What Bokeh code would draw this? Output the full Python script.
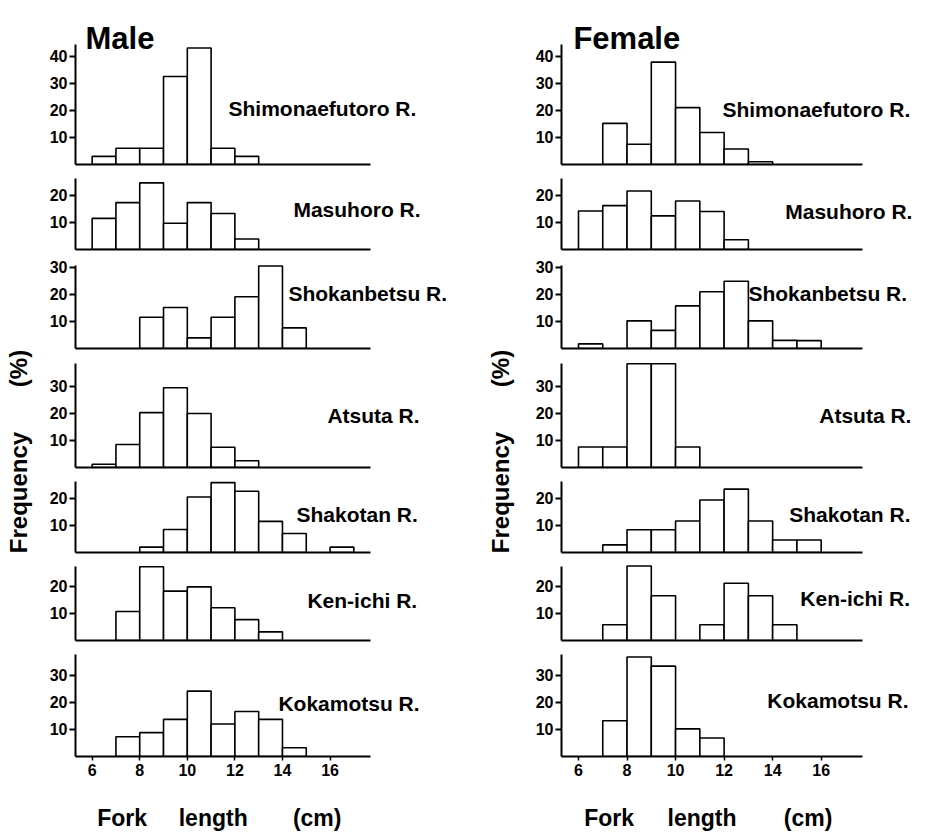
import math
from bokeh.plotting import figure
from bokeh.layouts import row, column
from bokeh.models import Range1d, FixedTicker, Label, ColumnDataSource, LinearAxis
from bokeh.embed import file_html
from bokeh.resources import INLINE
from bokeh.core.properties import value

FONT = "Liberation Sans"

# ---------------- data ----------------
rivers = ["Shimonaefutoro R.", "Masuhoro R.", "Shokanbetsu R.", "Atsuta R.",
          "Shakotan R.", "Ken-ichi R.", "Kokamotsu R."]
class_start = [6, 7, 8, 9, 10, 11, 12, 13, 14, 15, 16]   # fork-length classes (cm)
class_width = 1

male_shimonaefutoro = [3, 6, 6, 32.5, 43, 6, 3, 0, 0, 0, 0]
male_masuhoro = [11.5, 17.3, 24.6, 9.7, 17.3, 13.3, 3.9, 0, 0, 0, 0]
male_shokanbetsu = [0, 0, 11.5, 15.1, 3.9, 11.5, 19.1, 30.4, 7.6, 0, 0]
male_atsuta = [1.2, 8.5, 20.3, 29.5, 20, 7.5, 2.5, 0, 0, 0, 0]
male_shakotan = [0, 0, 2, 8.5, 20.5, 25.8, 22.6, 11.5, 7, 0, 2]
male_kenichi = [0, 10.7, 27.2, 18.2, 19.8, 12.1, 7.7, 3.2, 0, 0, 0]
male_kokamotsu = [0, 7.3, 8.8, 13.7, 24.1, 12, 16.6, 13.7, 3.2, 0, 0]

female_shimonaefutoro = [0, 15.2, 7.5, 37.8, 21, 11.8, 5.7, 1, 0, 0, 0]
female_masuhoro = [14.2, 16.2, 21.6, 12.4, 17.9, 14, 3.6, 0, 0, 0, 0]
female_shokanbetsu = [1.7, 0, 10.2, 6.7, 15.7, 20.9, 24.8, 10.2, 3, 2.9, 0]
female_atsuta = [7.6, 7.6, 38.4, 38.4, 7.6, 0, 0, 0, 0, 0, 0]
female_shakotan = [0, 2.8, 8.4, 8.4, 11.6, 19.4, 23.4, 11.6, 4.6, 4.6, 0]
female_kenichi = [0, 5.8, 27.5, 16.5, 0, 5.8, 21.1, 16.5, 5.8, 0, 0]
female_kokamotsu = [0, 13.2, 36.7, 33.3, 10.2, 6.8, 0, 0, 0, 0, 0]

male_values = [male_shimonaefutoro, male_masuhoro, male_shokanbetsu, male_atsuta,
               male_shakotan, male_kenichi, male_kokamotsu]
female_values = [female_shimonaefutoro, female_masuhoro, female_shokanbetsu, female_atsuta,
                 female_shakotan, female_kenichi, female_kokamotsu]

y_ticks = [[10, 20, 30, 40], [10, 20], [10, 20, 30], [10, 20, 30], [10, 20], [10, 20], [10, 20, 30]]
x_ticks = [6, 8, 10, 12, 14, 16]
x_min, x_axis_end = 5.3, 17.7
y_max = [44.3, 26.2, 30.6, 38.5, 26.2, 27.3, 37.6]

# ---------------- layout / label positions ----------------
axis_px = [120, 71, 83, 104, 71, 74, 102]     # height of each y axis
gap_above = [44, 7, 9, 8, 7, 7, 7]            # free frame space above each axis
border_bottom = [7, 7, 7, 7, 7, 7, 78]
male_px_per_cm, female_px_per_cm = 23.79, 24.27
male_frame_w, female_frame_w = 409, 363

male_label_x = [11.73, 14.46, 14.25, 15.89, 14.59, 15.05, 13.83]
male_label_y = [20.6, 14.7, 20.2, 19.1, 14.0, 14.7, 19.5]
female_label_x = [11.93, 14.52, 13.0, 15.92, 14.68, 15.14, 13.78]
female_label_y = [20.4, 14.0, 20.2, 19.1, 14.0, 15.4, 20.6]

title_x = {"Male": 5.72, "Female": 5.79}
title_y = 46.5
xlabel_words = ["Fork", "length", "(cm)"]
xlabel_x = [7.26, 11.09, 15.46]
freq_words = ["Frequency", "(%)"]
freq_y = [342, 466]
TOTAL_H = 834


def make_panel(i, vals, fw, ppc, bl, lx, ly, title=None):
    fh = axis_px[i] + gap_above[i]
    y_end = y_max[i] * fh / axis_px[i]
    p = figure(frame_width=fw, frame_height=fh, title=None,
               x_range=Range1d(x_min, x_min + fw / ppc), y_range=Range1d(0, y_end),
               min_border_left=bl, min_border_right=0,
               min_border_top=0, min_border_bottom=border_bottom[i],
               output_backend="svg", toolbar_location=None,
               background_fill_color="white", border_fill_color="white")
    p.outline_line_color = None
    p.grid.visible = False

    left = [s for s, v in zip(class_start, vals) if v > 0]
    top = [v for v in vals if v > 0]
    right = [s + class_width for s in left]
    src = ColumnDataSource(dict(left=left, right=right, top=top))
    p.quad(left="left", right="right", bottom=0, top="top", source=src,
           fill_color="white", line_color="black", line_width=1.6)

    ya = p.yaxis[0]
    ya.bounds = (0, y_max[i])
    ya.ticker = FixedTicker(ticks=y_ticks[i])
    ya.axis_line_width = 2
    ya.major_tick_line_width = 2
    ya.major_tick_out = 6
    ya.major_tick_in = 0
    ya.minor_tick_out = 0
    ya.minor_tick_in = 0
    ya.major_label_standoff = 2
    ya.major_label_text_font = FONT
    ya.major_label_text_font_style = "bold"
    ya.major_label_text_font_size = "16px"
    ya.major_label_text_color = "black"

    xa = p.xaxis[0]
    xa.bounds = (x_min, x_axis_end)
    xa.axis_line_width = 2
    xa.minor_tick_out = 0
    xa.minor_tick_in = 0
    xa.major_tick_in = 0
    if i == len(axis_px) - 1:
        xa.ticker = FixedTicker(ticks=x_ticks)
        xa.major_tick_out = 4
        xa.major_tick_line_width = 1.5
        xa.major_label_standoff = 3
        xa.major_label_text_font = FONT
        xa.major_label_text_font_style = "bold"
        xa.major_label_text_font_size = "16px"
        xa.major_label_text_color = "black"
        # axis title, word by word (the original is widely letter-spaced)
        ax2 = LinearAxis(ticker=FixedTicker(ticks=xlabel_x),
                         major_label_overrides={x: w for x, w in zip(xlabel_x, xlabel_words)},
                         axis_line_color=None, major_tick_line_color=None,
                         minor_tick_line_color=None, major_tick_out=0, major_tick_in=0,
                         minor_tick_out=0, minor_tick_in=0, major_label_standoff=26,
                         major_label_text_font=FONT, major_label_text_font_style="bold",
                         major_label_text_font_size="23px", major_label_text_color="black")
        p.add_layout(ax2, "below")
    else:
        xa.ticker = FixedTicker(ticks=[])
        xa.major_tick_out = 0
        xa.major_label_standoff = 0

    p.add_layout(Label(x=lx, y=ly, text=rivers[i], text_font=FONT, text_font_style="bold",
                       text_font_size="21px", text_align="left", text_baseline="middle",
                       text_color="black"))
    if title is not None:
        p.add_layout(Label(x=title_x[title], y=title_y, text=title, text_font=FONT,
                           text_font_style="bold", text_font_size="31px",
                           text_align="left", text_baseline="alphabetic", text_color="black"))
    return p


def make_title_fig(width, xc):
    t = figure(frame_width=width, frame_height=TOTAL_H, title=None, x_range=Range1d(0, width),
               y_range=Range1d(0, TOTAL_H), min_border=0, min_border_left=0, min_border_right=0,
               min_border_top=0, min_border_bottom=0,
               x_axis_location=None, y_axis_location=None,
               output_backend="svg", toolbar_location=None,
               background_fill_color="white", border_fill_color="white")
    t.outline_line_color = None
    t.grid.visible = False
    t.text(x=[xc] * len(freq_words), y=freq_y, text=freq_words, angle=math.pi / 2,
           text_align="center", text_baseline="middle", text_font=value(FONT),
           text_font_style="bold", text_font_size="24px", text_color="black")
    return t


male_panels = [make_panel(i, male_values[i], male_frame_w, male_px_per_cm, 35,
                          male_label_x[i], male_label_y[i], "Male" if i == 0 else None)
               for i in range(7)]
female_panels = [make_panel(i, female_values[i], female_frame_w, female_px_per_cm, 39,
                            female_label_x[i], female_label_y[i], "Female" if i == 0 else None)
                 for i in range(7)]

male_col = column(*male_panels, spacing=0)
female_col = column(*female_panels, spacing=0)

layout = row(make_title_fig(40, 18), male_col, make_title_fig(38, 16), female_col, spacing=0)

open("out.html", "w").write(file_html(layout, INLINE, "Fork length frequency"))
